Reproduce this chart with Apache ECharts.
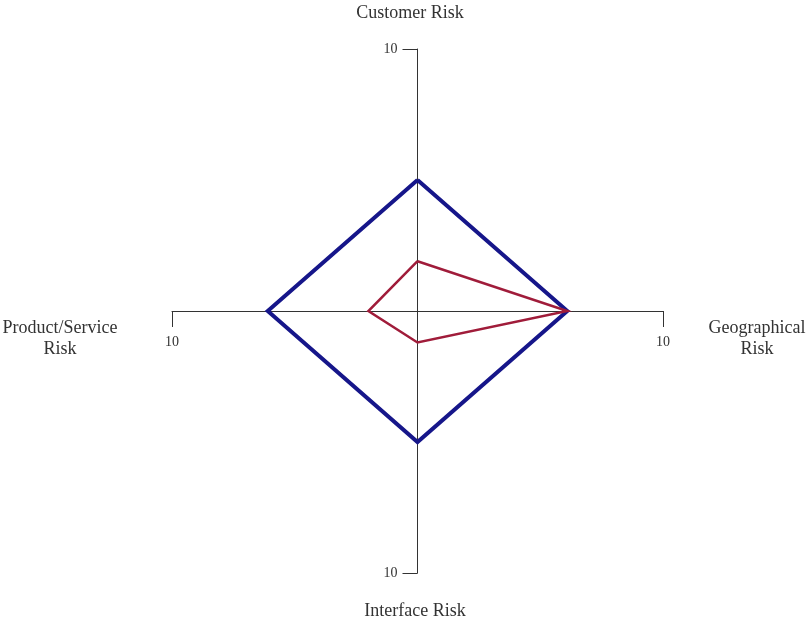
<!DOCTYPE html>
<html>
<head>
<meta charset="utf-8">
<script src="https://cdn.jsdelivr.net/npm/echarts@6/dist/echarts.min.js"></script>
<style>
  html, body { margin: 0; padding: 0; background: #fff; }
  #riskChart { width: 806px; height: 622px; }
</style>
</head>
<body>
<div id="riskChart"></div>
<script>
// axes, clockwise from the top
const categories = ["Customer Risk", "Geographical Risk", "Interface Risk", "Product/Service Risk"];
const axisMax = 10;
const tickLabels = [-10, 10];
// scores per axis, same order as categories
const inherentRisk = [5, 6.1, 5, 6.1];
const residualRisk = [1.9, 6.1, 1.2, 2];

// direction of each axis on the plane
const dirs = [[0, 1], [1, 0], [0, -1], [-1, 0]];
function toPoints(vals) {
  const pts = vals.map((v, i) => [dirs[i][0] * v, dirs[i][1] * v]);
  pts.push(pts[0]);
  return pts;
}

const font = "'Liberation Serif', 'DejaVu Serif', serif";
const chart = echarts.init(document.getElementById("riskChart"));

const option = {
  animation: false,
  grid: { left: 172, right: 143, top: 49, bottom: 49 },
  xAxis: {
    type: "value",
    min: -axisMax,
    max: axisMax,
    splitLine: { show: false },
    axisLine: { onZero: true, lineStyle: { color: "#333", width: 1 } },
    axisTick: { customValues: tickLabels, length: 16, lineStyle: { color: "#333" } },
    axisLabel: { show: false },
  },
  yAxis: {
    type: "value",
    min: -axisMax,
    max: axisMax,
    splitLine: { show: false },
    axisLine: { onZero: true, lineStyle: { color: "#333", width: 1 } },
    axisTick: { customValues: tickLabels, length: 15, lineStyle: { color: "#333" } },
    axisLabel: { show: false },
  },
  series: [
    {
      name: "Inherent",
      type: "line",
      data: toPoints(inherentRisk),
      symbol: "none",
      lineStyle: { color: "#16168a", width: 4, join: "miter" },
      z: 3,
    },
    {
      name: "Residual",
      type: "line",
      data: toPoints(residualRisk),
      symbol: "none",
      lineStyle: { color: "#a01c3a", width: 2.5, join: "miter" },
      z: 4,
    },
  ],
};

chart.setOption(option);

// tick labels sit at the axis ends, so place them from the axis scale
const labelStyle = { font: "14px " + font, fill: "#333" };
const graphics = [];
tickLabels.forEach((t) => {
  const px = chart.convertToPixel({ gridIndex: 0 }, [t, 0]);
  graphics.push({ type: "text", x: px[0], y: px[1] + 31, style: Object.assign({ text: String(Math.abs(t)), align: "center", verticalAlign: "middle" }, labelStyle) });
  const py = chart.convertToPixel({ gridIndex: 0 }, [0, t]);
  graphics.push({ type: "text", x: py[0] - 20, y: py[1], style: Object.assign({ text: String(Math.abs(t)), align: "right", verticalAlign: "middle" }, labelStyle) });
});

const nameStyle = { font: "18px " + font, fill: "#333", align: "center", lineHeight: 21 };
graphics.push(
  { type: "text", x: 410, y: 3, style: Object.assign({ text: categories[0] }, nameStyle) },
  { type: "text", x: 757, y: 318, style: Object.assign({ text: "Geographical\nRisk" }, nameStyle) },
  { type: "text", x: 415, y: 601, style: Object.assign({ text: categories[2] }, nameStyle) },
  { type: "text", x: 60, y: 318, style: Object.assign({ text: "Product/Service\nRisk" }, nameStyle) }
);
chart.setOption({ graphic: graphics });
</script>
</body>
</html>
